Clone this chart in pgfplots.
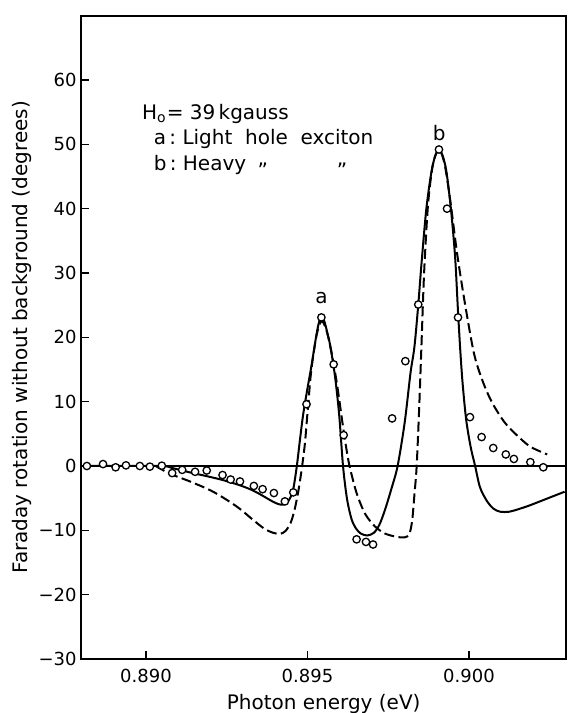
\documentclass[border=0pt]{standalone}
\usepackage{fontspec}
\setmainfont{DejaVu Sans}
\usepackage{pgfplots}
\pgfplotsset{compat=1.18}

\newcommand{\ticksize}{\fontsize{9}{10}\selectfont}
\newcommand{\labsize}{\fontsize{10}{12}\selectfont}

\begin{document}
\begin{tikzpicture}
\begin{axis}[
  at={(0,0)}, anchor=south west,
  scale only axis, width=242.25pt, height=321.65pt,
  xmin=0.888, xmax=0.903, ymin=-30, ymax=70,
  clip=false,
  axis line style={line width=1pt},
  xtick={0.890,0.895,0.900}, xticklabels={0.890,0.895,0.900},
  ytick={-30,-20,-10,0,10,20,30,40,50,60},
  yticklabels={−30,−20,−10,0,10,20,30,40,50,60},
  tick align=inside, xtick pos=bottom, ytick pos=left,
  major tick length=4pt,
  tick style={line width=0.8pt, black},
  xticklabel style={anchor=base, inner sep=0pt, yshift=-11.5pt, font=\ticksize},
  yticklabel style={anchor=east, inner sep=0pt, xshift=-2.2pt, font=\ticksize},
  xlabel={Photon energy (eV)},
  ylabel={Faraday rotation without background (degrees)},
  xlabel style={at={(axis description cs:0.5,-0.0785)}, anchor=base, inner sep=0pt, font=\labsize},
  ylabel style={at={(axis description cs:-0.1115,0.5)}, anchor=base, inner sep=0pt, font=\labsize},
]

% zero line
\addplot[line width=0.6pt] coordinates {(0.888,0) (0.903,0)};

% calculated curve (solid)
\addplot[line width=1pt, smooth] coordinates {
(0.88803,0) (0.89040,0) (0.89080,-0.3) (0.89136,-1.0) (0.89190,-1.6)
(0.89239,-2.2) (0.89285,-2.9) (0.89322,-3.6) (0.89350,-4.3) (0.89374,-5.0)
(0.89395,-5.6) (0.89412,-5.95) (0.89425,-6.0) (0.89438,-5.6) (0.89448,-4.8)
(0.89457,-3.3) (0.89467,0) (0.89476,3.8) (0.89486,7.8) (0.89498,11.5)
(0.89512,15.5) (0.89528,20.5) (0.89536,22.4) (0.89543,23.2) (0.89552,22.5)
(0.89560,21.0) (0.89570,18.8) (0.89585,14.0) (0.89598,8.0) (0.89610,0)
(0.89622,-5.0) (0.89636,-8.2) (0.89650,-9.7) (0.89665,-10.5) (0.89685,-10.8)
(0.89705,-10.4) (0.89722,-9.2) (0.89740,-6.8) (0.89760,-3.5) (0.89779,0)
(0.89801,6.8) (0.89819,14.5) (0.89831,18.5) (0.89843,25.1) (0.89853,31.5)
(0.89868,40.0) (0.89884,45.8) (0.89896,48.3) (0.89907,49.2) (0.89918,48.3)
(0.89930,45.8) (0.89944,40.0) (0.89957,32.5) (0.89966,24.0) (0.89973,18.0)
(0.89980,13.0) (0.89991,7.3) (0.90005,3.0) (0.90019,0) (0.90034,-3.3)
(0.90055,-5.4) (0.90075,-6.6) (0.90096,-7.1) (0.90125,-7.1) (0.90160,-6.6)
(0.90189,-6.1) (0.90240,-5.1) (0.90296,-4.0)
};

% calculated curve (dashed)
\addplot[line width=1pt, smooth, dash pattern=on 5pt off 2.2pt] coordinates {
(0.89030,0) (0.89074,-1.2) (0.89136,-2.4) (0.89208,-4.0) (0.89281,-6.3)
(0.89332,-8.4) (0.89368,-9.8) (0.89395,-10.4) (0.89415,-10.55) (0.89432,-10.1)
(0.89448,-8.8) (0.89460,-6.8) (0.89472,-3.8) (0.89482,-0.5) (0.89492,3.5)
(0.89502,9.5) (0.89512,15.0) (0.89528,20.3) (0.89543,22.5) (0.89558,21.2)
(0.89575,17.5) (0.89592,12.5) (0.89608,6.8) (0.89620,2.8) (0.89631,-0.2)
(0.89652,-4.2) (0.89678,-7.4) (0.89709,-9.4) (0.89740,-10.5) (0.89775,-11.0)
(0.89800,-11.1) (0.89815,-10.6) (0.89824,-8.5) (0.89831,-4.5) (0.89838,0)
(0.89846,9.3) (0.89853,19.0) (0.89861,30.0) (0.89873,40.5) (0.89888,46.8)
(0.89907,49.2) (0.89925,46.8) (0.89944,40.5) (0.89963,33.1) (0.89987,25.4)
(0.90015,17.6) (0.90040,13.5) (0.90070,10.0) (0.90110,6.8) (0.90150,4.7)
(0.90190,3.0) (0.90242,1.8)
};

% measured points
\addplot[only marks, mark=*, mark size=1.85pt,
  mark options={fill=white, draw=black, line width=0.65pt}] coordinates {
(0.88817,0) (0.88867,0.3) (0.88906,-0.2) (0.88938,0.1) (0.88981,0)
(0.89012,-0.1) (0.89049,0.05) (0.89081,-1.1) (0.89112,-0.6) (0.89152,-0.9)
(0.89188,-0.7) (0.89237,-1.4) (0.89262,-2.1) (0.89291,-2.4) (0.89334,-3.1)
(0.89361,-3.6) (0.89396,-4.2) (0.89430,-5.5) (0.89456,-4.1) (0.89497,9.6)
(0.89543,23.1) (0.89581,15.8) (0.89612,4.8) (0.89652,-11.4) (0.89681,-11.8)
(0.89703,-12.2) (0.89762,7.4) (0.89803,16.3) (0.89843,25.1) (0.89907,49.2)
(0.89932,40.0) (0.89966,23.1) (0.90003,7.6) (0.90039,4.5) (0.90075,2.8)
(0.90114,1.8) (0.90139,1.1) (0.90190,0.6) (0.90230,-0.2)
};

% peak letters and key
\node[anchor=base, inner sep=0pt, font=\labsize] at (axis cs:0.89543,25.3) {a};
\node[anchor=base, inner sep=0pt, font=\labsize] at (axis cs:0.89908,50.6) {b};
\node[anchor=base west, inner sep=0pt, font=\labsize] at (axis cs:0.88987,53.9) {H\textsubscript{o}= 39\,kgauss};
\node[anchor=base west, inner sep=0pt, font=\labsize] at (axis cs:0.89023,49.9) {a\,:\ Light\ \ hole\ \ exciton};
\node[anchor=base west, inner sep=0pt, font=\labsize] at (axis cs:0.89023,45.9) {b\,:\ Heavy};
\node[anchor=base, inner sep=0pt, font=\labsize] at (axis cs:0.89362,44.9) {”};
\node[anchor=base, inner sep=0pt, font=\labsize] at (axis cs:0.89607,44.9) {”};
\end{axis}
\pgfresetboundingbox
\useasboundingbox (-40.7pt,-27pt) rectangle (243.8pt,329.5pt);
\end{tikzpicture}
\end{document}
